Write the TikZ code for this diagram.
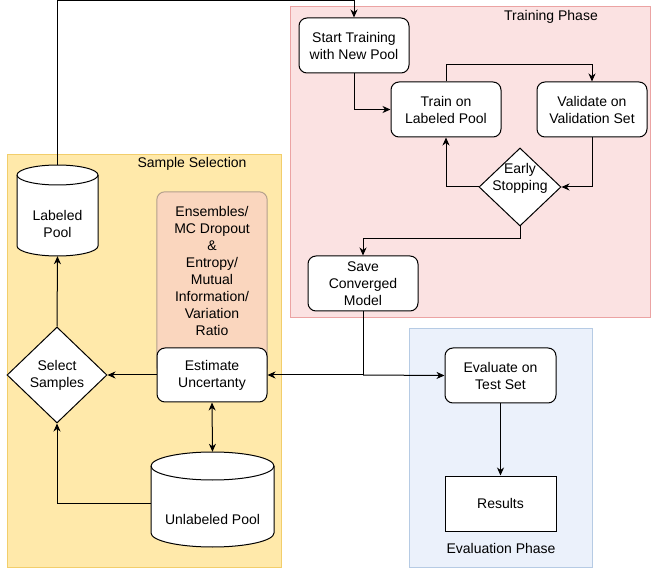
\documentclass[tikz,border=0pt]{standalone}
\usepackage{fontspec}
\setmainfont{Liberation Sans}
\usetikzlibrary{arrows.meta,shapes.geometric,calc}
\definecolor{yelfill}{HTML}{FFE9AA}
\definecolor{yeldraw}{HTML}{F2CE6B}
\definecolor{pinkfill}{HTML}{FBE2E2}
\definecolor{pinkdraw}{HTML}{EBA3A3}
\definecolor{orfill}{HTML}{FAD6BE}
\definecolor{ordraw}{HTML}{B4A08C}
\definecolor{bluefill}{HTML}{EBF1FB}
\definecolor{bluedraw}{HTML}{B6CBE4}
\tikzset{
  txt/.style={font=\fontsize{14}{17}\selectfont, align=center, inner sep=0pt},
  rbox/.style={txt, draw=black, line width=1pt, fill=white, rounded corners=8pt, minimum width=110pt, minimum height=55pt},
  sbox/.style={txt, draw=black, line width=1pt, fill=white, minimum width=111pt, minimum height=55pt},
  dia/.style={txt, diamond, draw=black, line width=1pt, fill=white},
  ghost/.style={draw=none, inner sep=0pt},
  arr/.style={line width=1pt, -{Stealth[length=8pt,width=7pt,inset=2.5pt]}},
  arrb/.style={line width=1pt, {Stealth[length=8pt,width=7pt,inset=2.5pt]}-{Stealth[length=8pt,width=7pt,inset=2.5pt]}},
  ln/.style={line width=1pt},
  panel/.style={line width=1pt},
}
\begin{document}
\begin{tikzpicture}[x=1pt,y=-1pt]
\useasboundingbox (0,0) rectangle (651,569);
% panels
\draw[panel, fill=yelfill, draw=yeldraw] (7,155) rectangle (281,567);
\draw[panel, fill=pinkfill, draw=pinkdraw] (290,7) rectangle (650,318);
\draw[panel, fill=bluefill, draw=bluedraw] (409,329) rectangle (592,567);
\node[txt] (lblss) at (192,164) {Sample Selection};
\node[txt] (lbltp) at (551,17) {Training Phase};
\node[txt] (lblep) at (501,548) {Evaluation Phase};

% training phase
\node[rbox] (st) at (354,45.5) {Start Training\\with New Pool};
\node[rbox] (tr) at (446,109.5) {Train on\\Labeled Pool};
\node[rbox] (va) at (592,109.5) {Validate on\\Validation Set};
\node[dia, minimum width=82pt, minimum height=78pt] (es) at (520,187) {};
\node[txt] (estxt) at (520,178) {Early\\Stopping};
\node[rbox] (sv) at (363,283.5) {Save\\Converged\\Model};

% sample selection
\node[ghost, minimum width=81pt, minimum height=91pt] (lp) at (57.5,210.5) {};
\draw[ln, fill=white] (17,175) -- (17,246)
  arc[start angle=180, end angle=360, x radius=40.5pt, y radius=10pt] -- (98,175)
  arc[start angle=0, end angle=180, x radius=40.5pt, y radius=10pt] -- cycle;
\draw[ln] (17,175) arc[start angle=180, end angle=360, x radius=40.5pt, y radius=10pt];
\node[txt] (lptxt) at (57.5,223.5) {Labeled\\Pool};

\node[ghost, minimum width=110pt, minimum height=183pt] (ob) at (212,283.5) {};
\draw[line width=1pt, draw=ordraw, fill=orfill, rounded corners=8pt] (ob.north west) rectangle (ob.south east);
\node[txt] (obtxt) at (212,270.5) {Ensembles/\\MC Dropout\\\&\\Entropy/\\Mutual\\Information/\\Variation\\Ratio};
\node[rbox, minimum height=54pt] (eu) at (212,375) {Estimate\\Uncertanty};

\node[dia, minimum width=100pt, minimum height=96pt] (ss) at (57,375) {Select\\Samples};

\node[ghost, minimum width=123pt, minimum height=95pt] (up) at (212.5,499.5) {};
\draw[ln, fill=white] (151,466) -- (151,533)
  arc[start angle=180, end angle=360, x radius=61.5pt, y radius=14pt] -- (274,466)
  arc[start angle=0, end angle=180, x radius=61.5pt, y radius=14pt] -- cycle;
\draw[ln] (151,466) arc[start angle=180, end angle=360, x radius=61.5pt, y radius=14pt];
\node[txt] (uptxt) at (212.5,519) {Unlabeled Pool};

% evaluation
\node[rbox, minimum width=111pt] (ev) at (500.5,375.5) {Evaluate on\\Test Set};
\node[sbox] (rs) at (500.5,503.5) {Results};

% connectors
\draw[arr] (lp.north) -- ++(0,-164.5) -| (st.north);
\draw[arr] (st.south) |- (tr.west);
\draw[arr] (tr.north) -- ++(0,-17) -| (va.north);
\draw[arr] (va.south) |- (es.east);
\draw[arr] (es.west) -| (tr.south);
\draw[arr] (es.south) -- ++(0,12) -| (sv.north);
\coordinate (j) at (363,375);
\draw[ln] (sv.south) -- (j);
\draw[arr] (j) -- (eu.east);
\draw[arr] (j) -- (ev.west);
\draw[arr] (eu.west) -- (ss.east);
\draw[arr] (ss.north) -- (lp.south);
\draw[arr] ([yshift=-3.5pt]up.west) -| (ss.south);
\draw[arrb] (eu.south) -- (up.north);
\draw[arr] (ev.south) -- (rs.north);
\end{tikzpicture}
\end{document}
